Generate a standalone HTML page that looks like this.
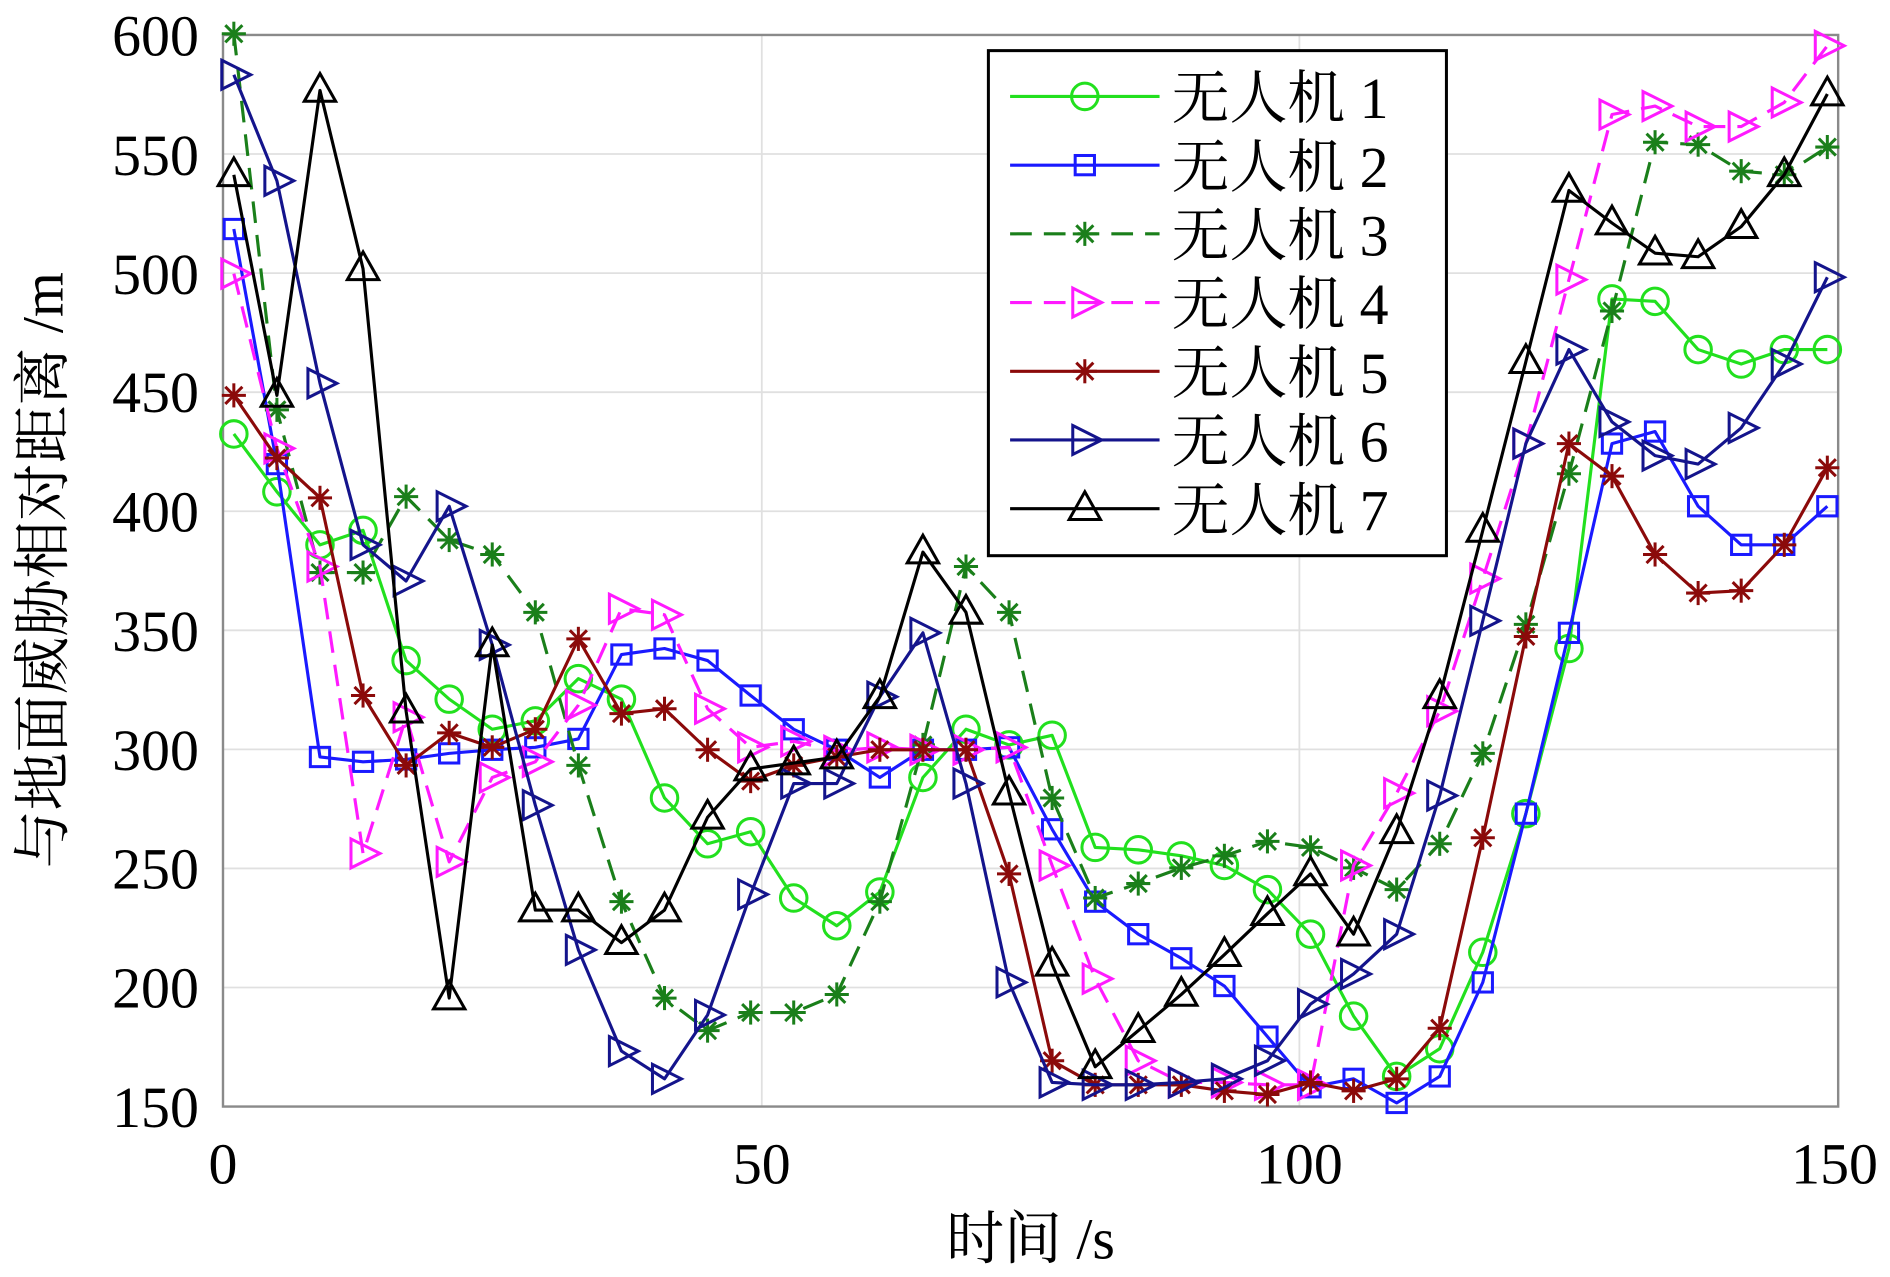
<!DOCTYPE html>
<html><head><meta charset="utf-8"><style>html,body{margin:0;padding:0;background:#fff}svg{display:block}</style></head>
<body>
<svg id="s" width="1890" height="1277" viewBox="0 0 1568 1059.4" preserveAspectRatio="none" xmlns="http://www.w3.org/2000/svg">
<rect x="0" y="0" width="1568" height="1060" fill="#fff"/>
<g id="grid" stroke="#e0e0e0" stroke-width="1.5"></g>
<rect x="185" y="29" width="1340" height="889" fill="none" stroke="#8a8a8a" stroke-width="2"/>
<g id="data"></g>
<g font-family="'Liberation Serif','Noto Serif CJK SC',serif" font-size="48" fill="#000">
<text x="165" y="46" text-anchor="end">600</text>
<text x="165" y="145" text-anchor="end">550</text>
<text x="165" y="244" text-anchor="end">500</text>
<text x="165" y="342" text-anchor="end">450</text>
<text x="165" y="441" text-anchor="end">400</text>
<text x="165" y="540" text-anchor="end">350</text>
<text x="165" y="639" text-anchor="end">300</text>
<text x="165" y="737" text-anchor="end">250</text>
<text x="165" y="836" text-anchor="end">200</text>
<text x="165" y="935" text-anchor="end">150</text>
<text x="185" y="982" text-anchor="middle">0</text>
<text x="632" y="982" text-anchor="middle">50</text>
<text x="1078" y="982" text-anchor="middle">100</text>
<text x="1522" y="982" text-anchor="middle">150</text>
<text x="855" y="1044" text-anchor="middle">时间 /s</text>
<text transform="translate(52,473) rotate(-90)" text-anchor="middle">与地面威胁相对距离 /m</text>
</g>
<g id="legend"><rect x="820" y="42" width="380" height="419" fill="#fff" stroke="#000" stroke-width="2.5"/></g>
<g font-family="'Liberation Serif','Noto Serif CJK SC',serif" font-size="48" fill="#000">
<text x="972" y="98">无人机 1</text>
<text x="972" y="155">无人机 2</text>
<text x="972" y="212">无人机 3</text>
<text x="972" y="269">无人机 4</text>
<text x="972" y="326">无人机 5</text>
<text x="972" y="383">无人机 6</text>
<text x="972" y="440">无人机 7</text>
</g>
</svg>
<script>
const NS="http://www.w3.org/2000/svg";
function el(p,t,a){const e=document.createElementNS(NS,t);for(const k in a)e.setAttribute(k,a[k]);p.appendChild(e);return e;}
const grid=document.getElementById('grid');
[632,1078].forEach(x=>el(grid,'line',{x1:x,y1:29,x2:x,y2:918}));
for(let i=1;i<9;i++){const y=29+i*98.78;el(grid,'line',{x1:185,y1:y,x2:1525,y2:y});}
const S=[
{c:'#22e01e',d:'',m:'o',y:[360,408,452,440,548,580,605,598,563,580,662,700,690,745,768,740,645,605,618,610,703,705,710,718,738,775,843,893,870,790,675,538,248,250,290,302,290,290]},
{c:'#1a1aff',d:'',m:'s',y:[190,385,628,632,630,625,622,620,613,543,538,548,577,605,622,645,622,622,620,688,748,775,795,818,860,902,895,915,893,815,675,525,368,358,420,452,452,420]},
{c:'#1a7f1a',d:'18,10',m:'*',y:[28,340,475,475,412,448,460,508,635,748,828,855,840,840,825,748,618,470,508,662,745,733,720,710,698,703,720,738,700,625,518,393,258,118,120,142,145,122]},
{c:'#ff1aff',d:'18,10',m:'>',y:[227,372,470,708,595,715,645,632,585,505,510,588,620,615,623,620,622,622,620,718,812,880,898,898,900,900,718,658,590,480,368,232,95,88,105,105,85,38]},
{c:'#8b0a0a',d:'',m:'*',y:[328,380,413,577,635,608,620,605,530,592,588,622,648,635,628,622,622,622,725,880,900,900,900,905,908,898,905,895,853,695,528,368,395,460,492,490,452,388]},
{c:'#14148c',d:'',m:'>',y:[62,150,318,452,482,420,535,668,788,872,895,842,742,650,650,578,525,650,815,898,900,900,898,895,880,833,808,775,660,515,368,290,350,378,385,355,302,230]},
{c:'#000',d:'',m:'^',y:[145,328,75,223,590,828,535,755,755,782,755,678,638,633,628,578,458,508,658,800,885,855,825,792,758,725,775,690,578,440,300,158,185,210,213,188,145,78]}
];
function marker(g,m,x,y,c){
 const a={fill:'none',stroke:c,'stroke-width':2.5};
 if(m=='o')el(g,'circle',Object.assign({cx:x,cy:y,r:11},a));
 else if(m=='s')el(g,'rect',Object.assign({x:x-8,y:y-8,width:16,height:16},a));
 else if(m=='>')el(g,'polygon',Object.assign({points:`${x-10},${y-12} ${x+14},${y} ${x-10},${y+12}`},a));
 else if(m=='^')el(g,'polygon',Object.assign({points:`${x},${y-14} ${x+13},${y+9} ${x-13},${y+9}`},a));
 else if(m=='*'){const r=10;for(let k=0;k<4;k++){const t=k*Math.PI/4;el(g,'line',Object.assign({x1:x-r*Math.cos(t),y1:y-r*Math.sin(t),x2:x+r*Math.cos(t),y2:y+r*Math.sin(t)},a));}}
}
const dg=document.getElementById('data'),lg=document.getElementById('legend');
S.forEach((s,j)=>{
 const pts=s.y.map((y,i)=>[194+35.73*i,y]);
 const pa={points:pts.map(p=>p.join(',')).join(' '),fill:'none',stroke:s.c,'stroke-width':2.6,'stroke-linejoin':'round'};
 if(s.d)pa['stroke-dasharray']=s.d;
 el(dg,'polyline',pa);
 pts.forEach(p=>marker(dg,s.m,p[0],p[1],s.c));
 const ly=80+57*j;
 const la={x1:838,y1:ly,x2:962,y2:ly,stroke:s.c,'stroke-width':2.6};
 if(s.d)la['stroke-dasharray']=s.d;
 el(lg,'line',la);
 marker(lg,s.m,900,ly,s.c);
});
</script>
</body></html>
